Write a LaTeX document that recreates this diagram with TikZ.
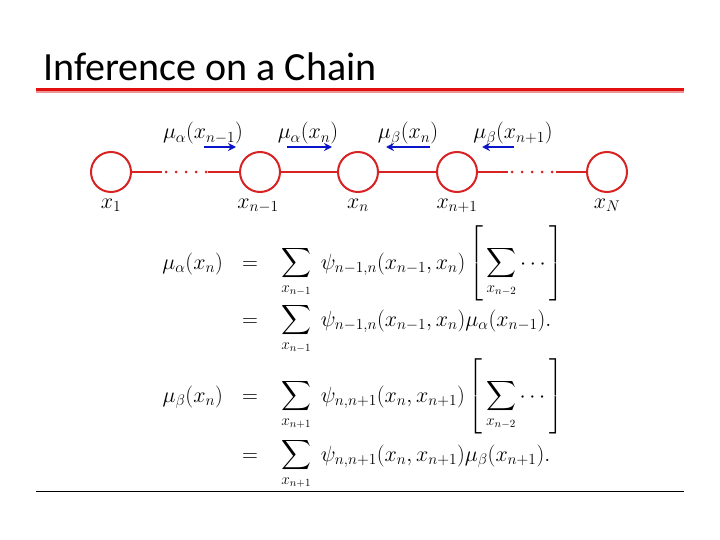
\RequirePackage{fix-cm}
\documentclass[tikz,border=0pt]{standalone}
\usepackage{amsmath}
\usepackage{fontspec}
\newfontfamily\titlefont{Carlito}
\usetikzlibrary{arrows.meta}
\definecolor{chainred}{RGB}{215,35,35}
\definecolor{titlered}{RGB}{225,15,15}
\definecolor{shadowred}{RGB}{235,150,150}
\definecolor{msgblue}{RGB}{10,20,200}
\begin{document}
\begin{tikzpicture}[x=1pt,y=-1pt,
  var/.style={circle,draw=chainred,line width=2pt,minimum size=40pt,inner sep=0pt},
  link/.style={draw=chainred,line width=2pt},
  dots/.style={draw=chainred,line width=3pt,line cap=round,dash pattern=on 0pt off 10pt},
  msg/.style={draw=msgblue,line width=2.6pt,-{Stealth[length=8pt,width=8pt]}},
  lab/.style={inner sep=0pt,anchor=base,font=\fontsize{22}{26}\selectfont},
  eq/.style={inner sep=0pt,font=\fontsize{22}{26}\selectfont}]
\useasboundingbox (0,0) rectangle (720,540);
\fill[white] (0,0) rectangle (720,540);
% title
\node[anchor=base west,inner sep=0pt,font=\titlefont\fontsize{40}{46}\selectfont] (title) at (43,81) {Inference on a Chain};
\coordinate (tl) at (36,89.5);
\coordinate (tr) at (684,89.5);
\draw[shadowred,line width=1.5pt] ([yshift=-2.5pt]tl) -- ([yshift=-2.5pt]tr);
\draw[titlered,line width=3.5pt] (tl) -- (tr);
% bottom rule
\coordinate (bl) at (36,491);
\coordinate (br) at (684,491);
\draw[black,line width=0.8pt] (bl) -- (br);
% chain
\node[var] (x1) at (111,172) {};
\node[var] (xm) at (260,172) {};
\node[var] (xn) at (358,172) {};
\node[var] (xp) at (457,172) {};
\node[var] (xN) at (607,172) {};
\coordinate (d1a) at (162,172);
\coordinate (d1b) at (208,172);
\coordinate (d2a) at (508,172);
\coordinate (d2b) at (556,172);
\draw[link] (x1) -- (d1a);
\draw[dots] ([xshift=4pt]d1a) -- (d1b);
\draw[link] (d1b) -- (xm);
\draw[link] (xm) -- (xn);
\draw[link] (xn) -- (xp);
\draw[link] (xp) -- (d2a);
\draw[dots] ([xshift=4pt]d2a) -- (d2b);
\draw[link] (d2b) -- (xN);
% node labels
\node[lab] (lx1) at (111,208) {$x_1$};
\node[lab] (lxm) at (258,208) {$x_{n-1}$};
\node[lab] (lxn) at (358,208) {$x_n$};
\node[lab] (lxp) at (457,208) {$x_{n+1}$};
\node[lab] (lxN) at (607,208) {$x_N$};
% messages
\coordinate (a1s) at (204,147);
\coordinate (a1e) at (236,147);
\coordinate (a2s) at (287,147);
\coordinate (a2e) at (332,147);
\coordinate (a3s) at (430,147);
\coordinate (a3e) at (386,147);
\coordinate (a4s) at (514,147);
\coordinate (a4e) at (482,147);
\draw[msg] (a1s) -- (a1e);
\draw[msg] (a2s) -- (a2e);
\draw[msg] (a3s) -- (a3e);
\draw[msg] (a4s) -- (a4e);
\node[lab] (m1) at (203,139) {$\mu_\alpha(x_{n-1})$};
\node[lab] (m2) at (308,139) {$\mu_\alpha(x_n)$};
\node[lab] (m3) at (408,139) {$\mu_\beta(x_n)$};
\node[lab] (m4) at (513,139) {$\mu_\beta(x_{n+1})$};
% equations
\node[eq,anchor=base east] (l1) at (223,269) {$\mu_\alpha(x_n)$};
\node[eq,anchor=base] (e1) at (250,269) {$=$};
\node[eq,anchor=base west] (r1) at (281,269) {$\displaystyle\sum_{x_{n-1}}\;\psi_{n-1,n}(x_{n-1},x_n)\left[\,\sum_{x_{n-2}}\cdots\right]$};
\node[eq,anchor=base] (e2) at (250,326) {$=$};
\node[eq,anchor=base west] (r2) at (281,326) {$\displaystyle\sum_{x_{n-1}}\;\psi_{n-1,n}(x_{n-1},x_n)\mu_\alpha(x_{n-1}).$};
\node[eq,anchor=base east] (l3) at (223,402) {$\mu_\beta(x_n)$};
\node[eq,anchor=base] (e3) at (250,402) {$=$};
\node[eq,anchor=base west] (r3) at (281,402) {$\displaystyle\sum_{x_{n+1}}\;\psi_{n,n+1}(x_n,x_{n+1})\left[\,\sum_{x_{n-2}}\cdots\right]$};
\node[eq,anchor=base] (e4) at (250,461) {$=$};
\node[eq,anchor=base west] (r4) at (281,461) {$\displaystyle\sum_{x_{n+1}}\;\psi_{n,n+1}(x_n,x_{n+1})\mu_\beta(x_{n+1}).$};
\end{tikzpicture}
\end{document}
